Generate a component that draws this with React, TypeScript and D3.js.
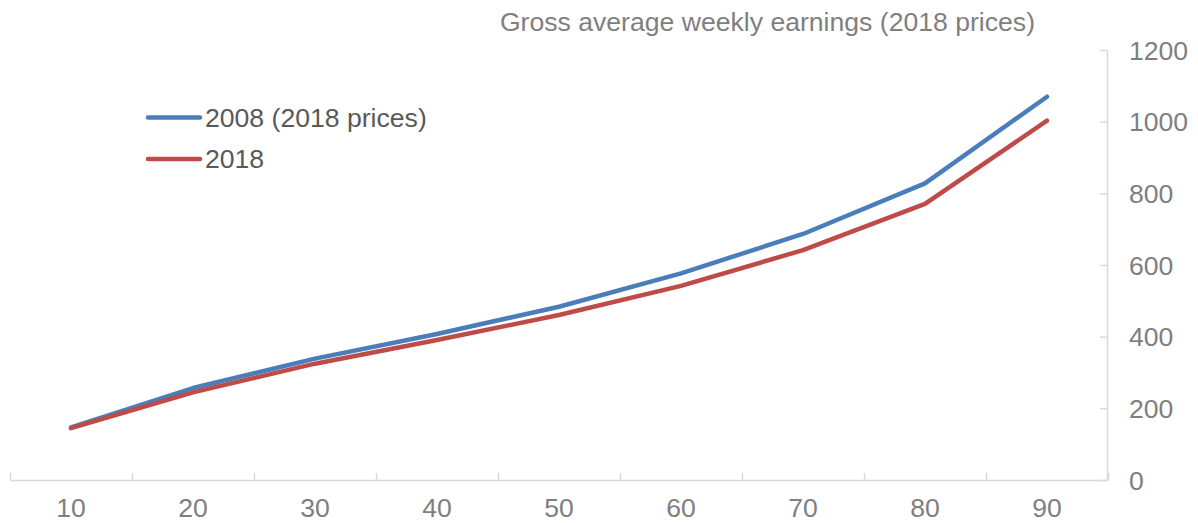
import React from "react";
import * as d3 from "d3";

const categories = ["10", "20", "30", "40", "50", "60", "70", "80", "90"];
const series2008 = [148, 258, 340, 409, 485, 578, 688, 829, 1071];
const series2018 = [146, 246, 326, 392, 462, 543, 643, 772, 1004];
const yTicks = [0, 200, 400, 600, 800, 1000, 1200];
const seriesNames = ["2008 (2018 prices)", "2018"];
const title = "Gross average weekly earnings (2018 prices)";

const W = 1198;
const H = 523;
const FONT = "'Liberation Sans', Arial, sans-serif";
const FS = 26.6;

export default function App() {
  const x = d3.scaleBand<string>().domain(categories).range([10, 1108]).padding(0);
  const y = d3.scaleLinear().domain([0, 1200]).range([480.5, 50.5]);
  const cx = (c: string) => (x(c) as number) + x.bandwidth() / 2;
  const line = d3
    .line<number>()
    .x((_, i) => cx(categories[i]))
    .y((d) => y(d));

  const axisColor = "#d9d9d9";
  const labelColor = "#7f7f7f";
  const colors = ["#4a7ebb", "#be4b48"];
  const data = [series2008, series2018];
  const boundaries = [...categories.map((c) => x(c) as number), 1108];

  return (
    <svg
      width={W}
      height={H}
      style={{ position: "absolute", left: 0, top: 0, background: "#fff" }}
      fontFamily={FONT}
    >
      <text x={1035} y={31} textAnchor="end" fontSize={FS} fill={labelColor}>
        {title}
      </text>

      {/* x axis */}
      <line x1={10} x2={1107.5} y1={480.5} y2={480.5} stroke={axisColor} strokeWidth={1.5} />
      {boundaries.map((b, i) => (
        <line key={i} x1={Math.round(b) + 0.5} x2={Math.round(b) + 0.5} y1={473} y2={480.5} stroke={axisColor} strokeWidth={1.5} />
      ))}
      {categories.map((c) => (
        <text key={c} x={cx(c)} y={517} textAnchor="middle" fontSize={FS} fill={labelColor}>
          {c}
        </text>
      ))}

      {/* y axis */}
      <line x1={1107.5} x2={1107.5} y1={y(1200)} y2={y(0)} stroke={axisColor} strokeWidth={1.5} />
      {yTicks.map((t) => (
        <g key={t}>
          <line x1={1100} x2={1107.5} y1={y(t)} y2={y(t)} stroke={axisColor} strokeWidth={1.5} />
          <text x={1129} y={y(t)} dy="0.35em" fontSize={FS} fill={labelColor}>
            {t}
          </text>
        </g>
      ))}

      {/* lines */}
      {data.map((s, i) => (
        <path
          key={i}
          d={line(s) || ""}
          fill="none"
          stroke={colors[i]}
          strokeWidth={4.5}
          strokeLinecap="round"
          strokeLinejoin="round"
        />
      ))}

      {/* legend */}
      {seriesNames.map((n, i) => (
        <g key={n}>
          <line
            x1={148}
            x2={200}
            y1={117.5 + i * 41.5}
            y2={117.5 + i * 41.5}
            stroke={colors[i]}
            strokeWidth={4.5}
            strokeLinecap="round"
          />
          <text x={205} y={126.5 + i * 41.5} fontSize={FS} fill="#595959">
            {n}
          </text>
        </g>
      ))}
    </svg>
  );
}
